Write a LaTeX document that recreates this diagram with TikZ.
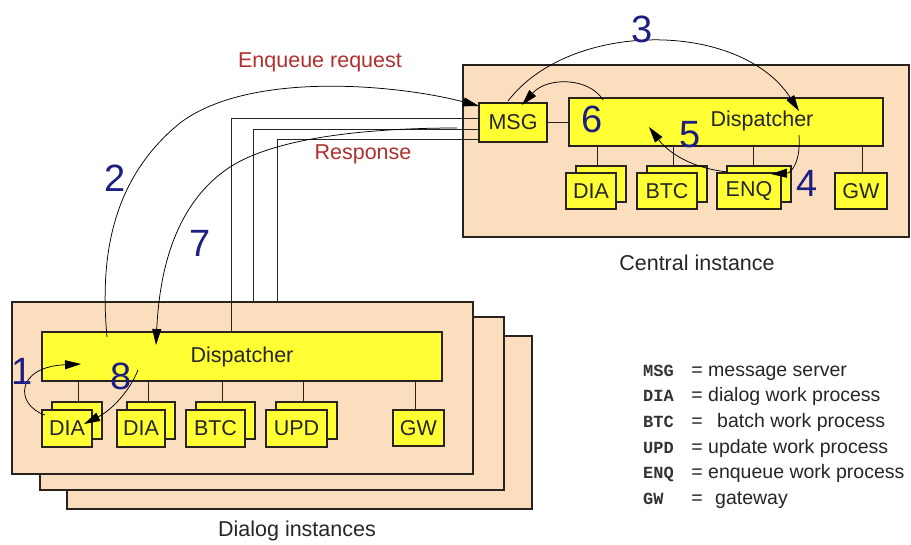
\documentclass[tikz,border=0pt]{standalone}
\usepackage{fontspec}
\setmainfont{Liberation Sans}
\newfontfamily\lmono{Liberation Mono}
\usetikzlibrary{arrows.meta,calc}
\definecolor{peach}{RGB}{250,222,190}
\definecolor{yel}{RGB}{255,255,51}
\definecolor{linec}{RGB}{40,35,30}
\definecolor{navy}{RGB}{30,30,130}
\definecolor{redc}{RGB}{176,48,48}
\newcommand{\lblfont}{\fontsize{21.5}{24}\selectfont}
\newcommand{\numfont}{\fontsize{38}{40}\selectfont}
\newcommand{\legfont}{\fontsize{19.5}{22}\selectfont}
\newcommand{\legmono}{\lmono\bfseries\fontsize{17}{20}\selectfont}
\begin{document}
\begin{tikzpicture}[x=1pt,y=-1pt,
  inst/.style={draw=linec, fill=peach, line width=1.1pt, inner sep=0pt, outer sep=0pt},
  ybox/.style={draw=linec, fill=yel, line width=1.1pt, inner sep=0pt, outer sep=0pt, font=\lblfont, text=black!85},
  conn/.style={draw=linec, line width=1pt},
  flow/.style={draw=black, line width=0.75pt, -{Triangle[length=16pt,width=9pt]}},
  num/.style={text=navy, font=\numfont, inner sep=0pt},
  redlbl/.style={text=redc, font=\lblfont, inner sep=0pt},
  plain/.style={text=black!85, font=\lblfont, inner sep=0pt},
  legab/.style={font=\legmono, text=black!80, inner sep=0pt, anchor=base west},
  legeq/.style={font=\legfont, text=black!85, inner sep=0pt, anchor=base},
  legtx/.style={font=\legfont, text=black!85, inner sep=0pt, anchor=base west}]
\useasboundingbox[fill=white] (0,0) rectangle (911,544);

% ---------- Central instance ----------
\node[inst, minimum width=446pt, minimum height=172pt] (ci) at (686,151) {};
\node[ybox, minimum width=68pt, minimum height=39pt] (cmsg) at (513,122.5) {MSG};
\node[ybox, minimum width=314pt, minimum height=48pt] (cdisp) at (726,122) {};
\node[plain] (cdisptxt) at (762,121) {Dispatcher};
\draw[conn] (cmsg.east) -- (cmsg.east -| cdisp.west);

\node[ybox, minimum width=50pt, minimum height=36pt] (cdiab) at (601,184) {};
\node[ybox, minimum width=50pt, minimum height=36pt] (cdia) at (591,191) {DIA};
\node[ybox, minimum width=60pt, minimum height=36pt] (cbtcb) at (677,184) {};
\node[ybox, minimum width=60pt, minimum height=36pt] (cbtc) at (667,191) {BTC};
\node[ybox, minimum width=64pt, minimum height=36pt] (cenqb) at (759,184) {};
\node[ybox, minimum width=64pt, minimum height=36pt] (cenq) at (749,191) {ENQ};
\node[ybox, minimum width=52pt, minimum height=36pt] (cgw) at (861,191) {GW};
\draw[conn] (597,0 |- cdisp.south) -- (597,0 |- cdiab.north);
\draw[conn] (673,0 |- cdisp.south) -- (673,0 |- cbtcb.north);
\draw[conn] (753,0 |- cdisp.south) -- (753,0 |- cenqb.north);
\draw[conn] (862,0 |- cdisp.south) -- (862,0 |- cgw.north);
\node[plain] (cilbl) at (697,263) {Central instance};

% ---------- Dialog instances ----------
\node[inst, minimum width=465pt, minimum height=173pt] (d3) at (299.5,422.5) {};
\node[inst, minimum width=464pt, minimum height=173pt] (d2) at (272,403.5) {};
\node[inst, minimum width=461pt, minimum height=172pt] (d1) at (242.5,388) {};
\node[ybox, minimum width=400pt, minimum height=49pt] (ddisp) at (242,356.5) {Dispatcher};

\node[ybox, minimum width=50pt, minimum height=37pt] (ddia1b) at (77,420.5) {};
\node[ybox, minimum width=50pt, minimum height=37pt] (ddia1) at (67,428.5) {DIA};
\node[ybox, minimum width=48pt, minimum height=37pt] (ddia2b) at (151,420.5) {};
\node[ybox, minimum width=48pt, minimum height=37pt] (ddia2) at (141,428.5) {DIA};
\node[ybox, minimum width=59pt, minimum height=37pt] (dbtcb) at (225.5,420.5) {};
\node[ybox, minimum width=59pt, minimum height=37pt] (dbtc) at (215.5,428.5) {BTC};
\node[ybox, minimum width=61pt, minimum height=37pt] (dupdb) at (306.5,420.5) {};
\node[ybox, minimum width=61pt, minimum height=37pt] (dupd) at (296.5,428.5) {UPD};
\node[ybox, minimum width=51pt, minimum height=36pt] (dgw) at (418.5,428) {GW};
\draw[conn] (78,0 |- ddisp.south) -- (78,0 |- ddia1b.north);
\draw[conn] (148,0 |- ddisp.south) -- (148,0 |- ddia2b.north);
\draw[conn] (222,0 |- ddisp.south) -- (222,0 |- dbtcb.north);
\draw[conn] (303,0 |- ddisp.south) -- (303,0 |- dupdb.north);
\draw[conn] (415,0 |- ddisp.south) -- (415,0 |- dgw.north);
\node[plain] (dilbl) at (297,531) {Dialog instances};

% ---------- network lines ----------
\draw[conn] (231,0 |- ddisp.north) |- (cmsg.west |- 0,118);
\draw[conn] (253,0 |- d1.north) |- (cmsg.west |- 0,129);
\draw[conn] (277,0 |- d1.north) |- (cmsg.west |- 0,139);

% ---------- flows ----------
\coordinate (a2s) at (107,337);
\coordinate (a2e) at (479,106);
\draw[flow] (a2s) .. controls (100,260) and (110,180) .. (180,123)
                  .. controls (250,70) and (400,85) .. (a2e);
\coordinate (a7s) at (457,128);
\coordinate (a7e) at (156,345);
\draw[flow] (a7s) .. controls (380,128) and (280,135) .. (230,167)
                  .. controls (180,200) and (160,260) .. (a7e);
\coordinate (a3s) at (508,101);
\coordinate (a3e) at (799,111);
\draw[flow] (a3s) .. controls (570,20) and (740,20) .. (a3e);
\coordinate (a6s) at (603,100);
\coordinate (a6e) at (522,105);
\draw[flow] (a6s) .. controls (590,78) and (548,76) .. (a6e);
\coordinate (a4s) at (799,135);
\coordinate (a4e) at (771,174);
\draw[flow] (a4s) .. controls (801,160) and (792,173) .. (a4e);
\coordinate (a5s) at (728,172);
\coordinate (a5e) at (649,127);
\draw[flow] (a5s) .. controls (690,168) and (668,152) .. (a5e);
\coordinate (a1s) at (45,415);
\coordinate (a1e) at (81,364);
\draw[flow] (a1s) .. controls (15,405) and (15,367) .. (a1e);
\coordinate (a8s) at (138,370);
\coordinate (a8e) at (84,424);
\draw[flow] (a8s) .. controls (128,395) and (108,412) .. (a8e);

% ---------- labels ----------
\node[redlbl] (lenq) at (320,62) {Enqueue request};
\node[redlbl] (lresp) at (363,154) {Response};
\node[num] (n1) at (22,371) {1};
\node[num] (n2) at (115,178) {2};
\node[num] (n3) at (642,29) {3};
\node[num] (n4) at (807,183) {4};
\node[num] (n5) at (690,135) {5};
\node[num] (n6) at (592,119) {6};
\node[num] (n7) at (200,243) {7};
\node[num] (n8) at (121,376) {8};

% ---------- legend ----------
\node[legab] (k1) at (643,376) {MSG};
\node[legeq] (e1) at (697,376) {=};
\node[legtx] (t1) at (708,376) {message server};
\node[legab] (k2) at (643,401.7) {DIA};
\node[legeq] (e2) at (697,401.7) {=};
\node[legtx] (t2) at (708,401.7) {dialog work process};
\node[legab] (k3) at (643,427.4) {BTC};
\node[legeq] (e3) at (697,427.4) {=};
\node[legtx] (t3) at (717,427.4) {batch work process};
\node[legab] (k4) at (643,453.1) {UPD};
\node[legeq] (e4) at (697,453.1) {=};
\node[legtx] (t4) at (708,453.1) {update work process};
\node[legab] (k5) at (643,478.8) {ENQ};
\node[legeq] (e5) at (697,478.8) {=};
\node[legtx] (t5) at (708,478.8) {enqueue work process};
\node[legab] (k6) at (643,504.5) {GW};
\node[legeq] (e6) at (697,504.5) {=};
\node[legtx] (t6) at (715,504.5) {gateway};
\end{tikzpicture}
\end{document}
